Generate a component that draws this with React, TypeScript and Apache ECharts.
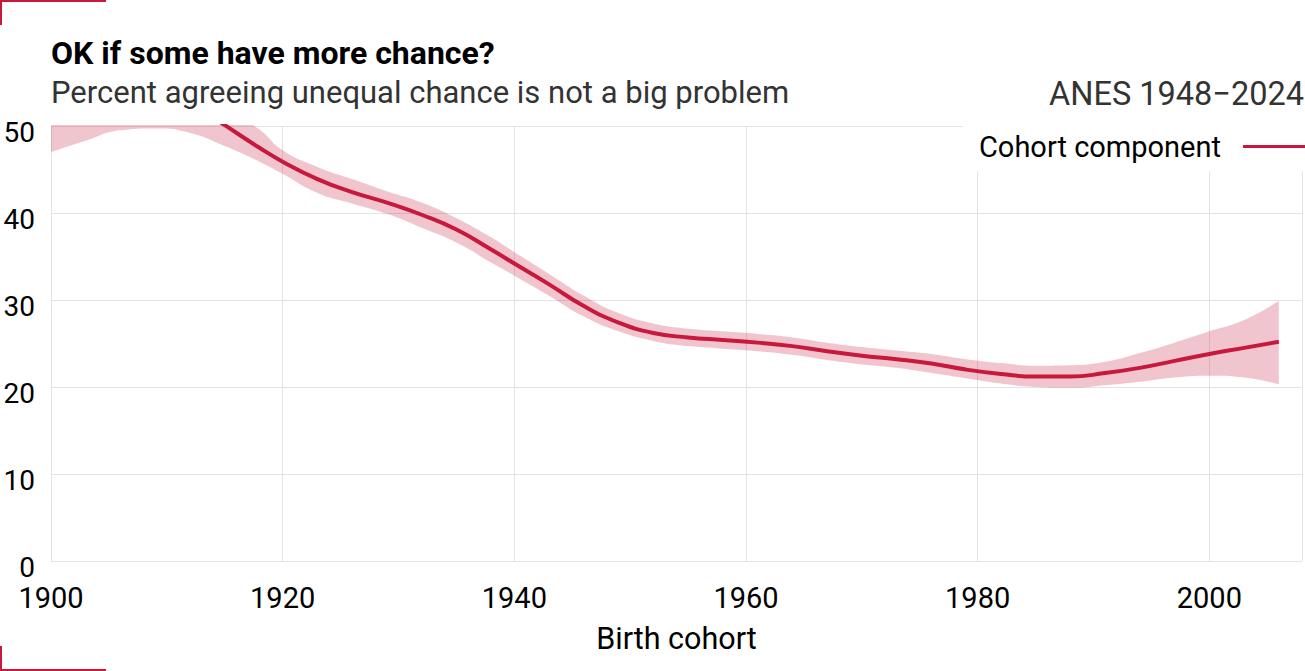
import React, { useEffect, useRef } from "react";
import * as echarts from "echarts";

const years = [1900, 1903, 1906, 1909, 1912, 1915, 1918, 1920, 1923, 1926, 1929, 1932, 1935, 1938, 1940, 1943, 1946, 1949, 1952, 1955, 1958, 1961, 1964, 1967, 1970, 1973, 1976, 1979, 1982, 1985, 1988, 1991, 1994, 1997, 2000, 2003, 2006];
const cohort = [54, 54.6, 54.8, 54.4, 52.7, 50.1, 47.5, 45.9, 43.9, 42.4, 41.2, 39.8, 38.1, 35.8, 34.2, 31.8, 29.3, 27.4, 26.2, 25.7, 25.4, 25.1, 24.7, 24.1, 23.6, 23.2, 22.7, 22.0, 21.5, 21.2, 21.2, 21.6, 22.2, 23.0, 23.8, 24.5, 25.2];
const upper = [60, 60, 60, 58.5, 55.5, 52, 49.6, 47.2, 45.3, 43.9, 42.5, 41.2, 39.4, 37.2, 35.5, 33.0, 30.5, 28.5, 27.3, 26.7, 26.4, 26.1, 25.7, 25.1, 24.6, 24.2, 23.8, 23.2, 22.75, 22.45, 22.5, 22.9, 23.9, 25.1, 26.4, 27.7, 29.9];
const lower = [47.0, 48.3, 49.5, 49.7, 49.2, 47.7, 45.9, 44.5, 42.3, 41.1, 39.9, 38.3, 36.6, 34.3, 32.8, 30.5, 28.1, 26.4, 25.3, 24.7, 24.4, 24.1, 23.7, 23.1, 22.6, 22.2, 21.6, 21.0, 20.4, 20.0, 19.9, 20.2, 20.6, 21.1, 21.3, 21.1, 20.3];

const xTicks = [1900, 1920, 1940, 1960, 1980, 2000];
const yTicks = [0, 10, 20, 30, 40, 50];

const TITLE = "OK if some have more chance?";
const SUBTITLE = "Percent agreeing unequal chance is not a big problem";
const SOURCE = "ANES 1948\u22122024";
const SERIES_NAME = "Cohort component";
const X_NAME = "Birth cohort";

const RED = "#c8193c";
const BAND = "rgba(200,25,60,0.25)";
const FONT = "Roboto";

export default function App() {
  const ref = useRef<HTMLDivElement>(null);
  useEffect(() => {
    document.body.style.margin = "0";
    const chart = echarts.init(ref.current!, undefined, { renderer: "svg" });
    const option = {
      animation: false,
      textStyle: { fontFamily: FONT },
      grid: { left: 51, right: 0, top: 126, bottom: 110 },
      xAxis: {
        type: "value",
        min: 1900,
        max: 2008,
        interval: 20,
        name: X_NAME,
        nameLocation: "middle",
        nameGap: 62,
        nameTextStyle: { fontSize: 30.5, color: "#000", fontFamily: FONT },
        axisLine: { show: false },
        axisTick: { show: false },
        axisLabel: {
          fontSize: 29,
          color: "#000",
          margin: 22,
          fontFamily: FONT,
          formatter: (v: number) => (xTicks.includes(v) ? String(v) : ""),
        },
        splitLine: { show: true, lineStyle: { color: "#e3e3e3", width: 1 } },
      },
      yAxis: {
        type: "value",
        min: 0,
        max: 50,
        interval: 10,
        axisLine: { show: false },
        axisTick: { show: false },
        axisLabel: {
          fontSize: 28,
          color: "#000",
          margin: 16,
          fontFamily: FONT,
          verticalAlign: "top",
          lineHeight: 12,
          formatter: (v: number) => (yTicks.includes(v) ? String(v) : ""),
        },
        splitLine: { show: true, lineStyle: { color: "#e3e3e3", width: 1 } },
      },
      legend: {
        data: [{ name: SERIES_NAME, icon: "rect" }],
        right: 0,
        top: 122,
        align: "right",
        backgroundColor: "#fff",
        padding: [10, 0, 10, 16],
        itemWidth: 62,
        itemHeight: 3,
        textStyle: { fontSize: 29, color: "#000", fontFamily: FONT, lineHeight: 25, padding: [0, 17, 0, 0] },
        z: 10,
      },
      graphic: [
        { type: "text", x: 51, y: 53, style: { text: TITLE, fontSize: 32, fontWeight: "bold", fontFamily: FONT, fill: "#000", verticalAlign: "middle" } },
        { type: "text", x: 51, y: 92, style: { text: SUBTITLE, fontSize: 31, fontFamily: FONT, fill: "#333", verticalAlign: "middle" } },
        { type: "text", x: 1304, y: 94, style: { text: SOURCE, fontSize: 32.5, fontFamily: FONT, fill: "#333", align: "right", verticalAlign: "middle" } },
        { type: "line", shape: { x1: 0, y1: 1, x2: 106, y2: 1 }, style: { stroke: RED, lineWidth: 2 } },
        { type: "line", shape: { x1: 1, y1: 0, x2: 1, y2: 25 }, style: { stroke: RED, lineWidth: 2 } },
        { type: "line", shape: { x1: 0, y1: 670, x2: 106, y2: 670 }, style: { stroke: RED, lineWidth: 2 } },
        { type: "line", shape: { x1: 1, y1: 646, x2: 1, y2: 671 }, style: { stroke: RED, lineWidth: 2 } },
      ],
      series: [
        {
          name: "lower",
          type: "line",
          stack: "band",
          smooth: true,
          symbol: "none",
          lineStyle: { opacity: 0 },
          encode: { x: 1, y: 0 },
          data: years.map((y, i) => [lower[i], y]),
          silent: true,
        },
        {
          name: "band",
          type: "line",
          stack: "band",
          smooth: true,
          symbol: "none",
          lineStyle: { opacity: 0 },
          areaStyle: { color: BAND, opacity: 1 },
          encode: { x: 1, y: 0 },
          data: years.map((y, i) => [upper[i] - lower[i], y]),
          silent: true,
        },
        {
          name: SERIES_NAME,
          type: "line",
          smooth: true,
          symbol: "none",
          color: RED,
          lineStyle: { color: RED, width: 4 },
          data: years.map((y, i) => [y, cohort[i]]),
          z: 3,
        },
      ],
    };
    chart.setOption(option);
    return () => chart.dispose();
  }, []);
  return <div ref={ref} style={{ width: 1305, height: 671, position: "absolute", left: 0, top: 0 }} />;
}
